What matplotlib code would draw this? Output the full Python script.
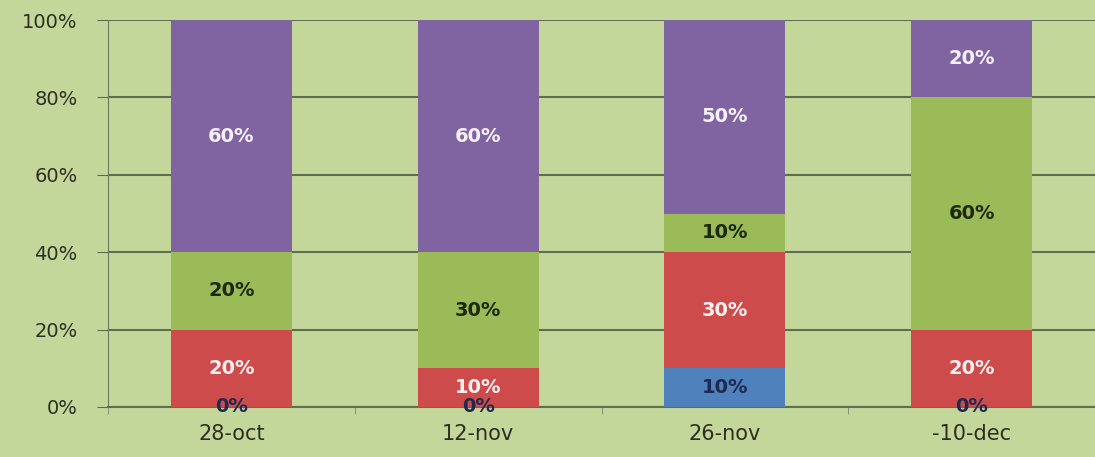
import matplotlib.pyplot as plt
import numpy as np

# Data (percent per date)
dates = ['28-oct', '12-nov', '26-nov', '-10-dec']
blue = [0, 0, 10, 0]
red = [20, 10, 30, 20]
green = [20, 30, 10, 60]
purple = [60, 60, 50, 20]

series = [
    (blue, '#4F81BD', '#1F2A50'),
    (red, '#CD4B4B', '#FCEFF0'),
    (green, '#9BBB59', '#1E2A10'),
    (purple, '#8064A2', '#F6F0FA'),
]

bg = '#C4D79B'
plt.rcParams['font.family'] = ['DejaVu Sans']

fig = plt.figure(figsize=(10.95, 4.57), dpi=100)
fig.patch.set_facecolor(bg)
ax = fig.add_axes([108 / 1095, 50 / 457, 1 - 108 / 1095, 387 / 457])
ax.set_facecolor(bg)

x = np.arange(len(dates))
bottom = np.zeros(len(dates))
for vals, color, tcolor in series:
    vals = np.array(vals, dtype=float)
    ax.bar(x, vals, 0.49, bottom=bottom, color=color, zorder=3)
    for xi, v, b in zip(x, vals, bottom):
        ax.text(xi, b + v / 2, f'{int(v)}%', ha='center', va='center',
                color=tcolor, fontsize=14, fontweight='bold', zorder=4, clip_on=False)
    bottom += vals

# Customize the plot
ax.set_xlim(-0.5, len(dates) - 0.5)
ax.set_ylim(0, 100)
ax.set_yticks([0, 20, 40, 60, 80, 100])
ax.set_yticklabels([f'{t}%' for t in [0, 20, 40, 60, 80, 100]], fontsize=14, color='#2A3020')
ax.set_xticks(x)
ax.set_xticklabels(dates, fontsize=15, color='#2A3020')
ax.set_xticks(np.arange(len(dates) + 1) - 0.5, minor=True)
ax.tick_params(axis='x', which='major', length=0, pad=12)
ax.tick_params(axis='x', which='minor', length=5, color='#7A8A6A', direction='out')
ax.tick_params(axis='y', length=8, color='#5A6A4A', pad=14)
ax.grid(axis='y', color='#5E6E4E', linewidth=1.5, zorder=1)
for s in ['top', 'right']:
    ax.spines[s].set_visible(False)
ax.spines['left'].set_color('#6A7A5A')
ax.spines['bottom'].set_color('#5E6E4E')
ax.spines['bottom'].set_linewidth(1.5)

fig.savefig('out.png', dpi=100, facecolor=bg)
